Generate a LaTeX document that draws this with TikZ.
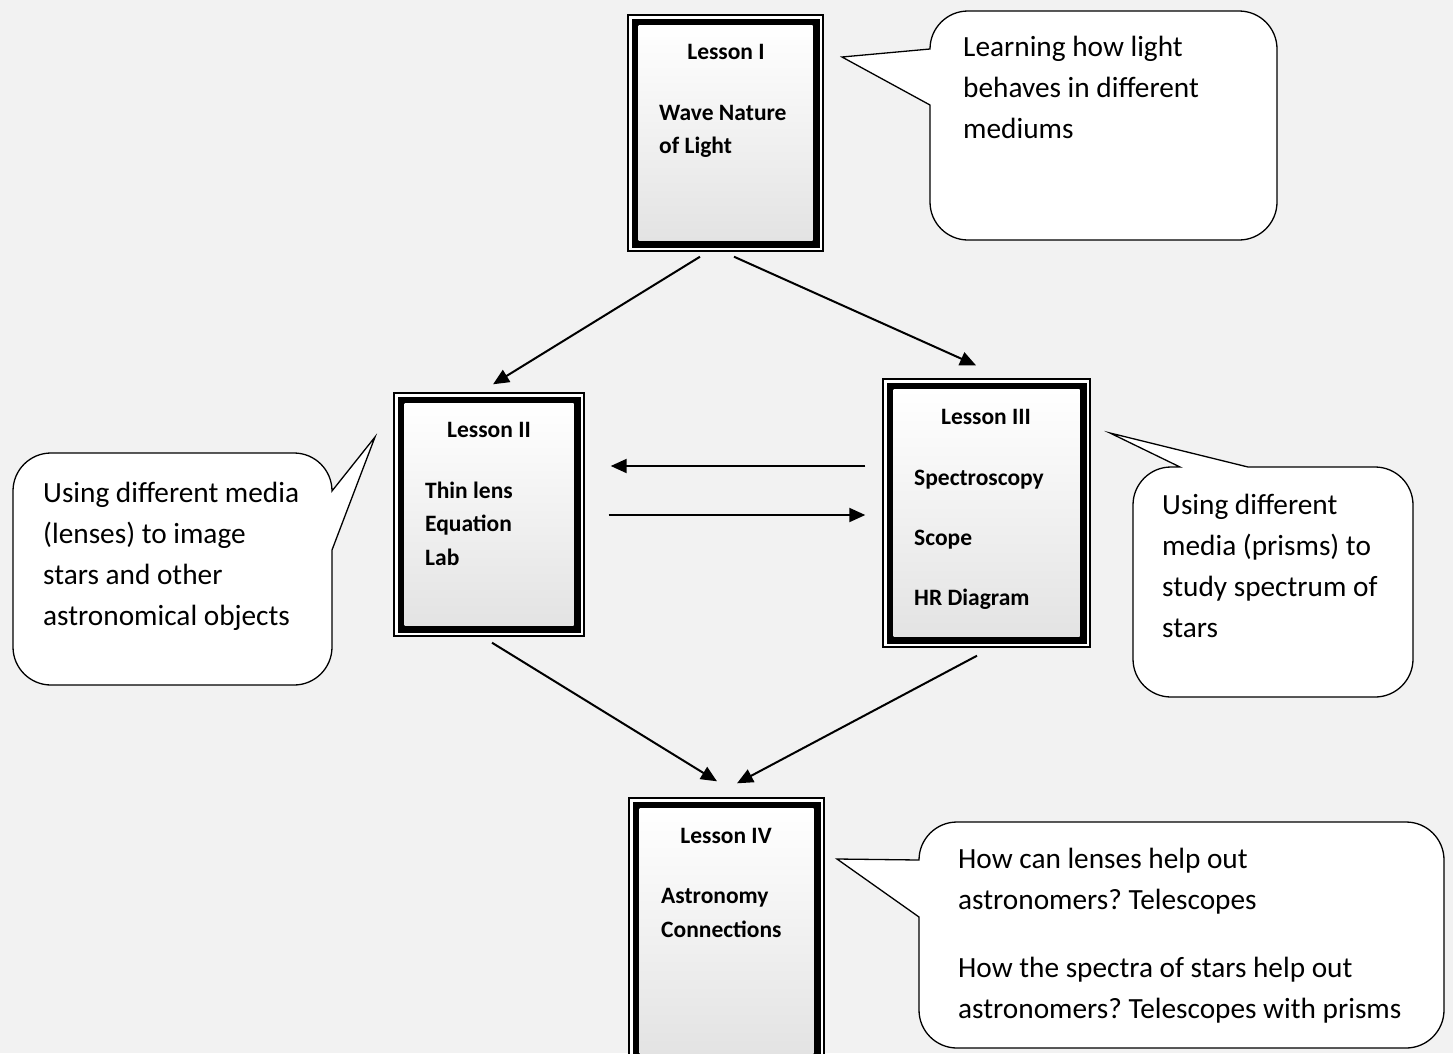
\documentclass[tikz,border=0pt]{standalone}
\usepackage{fontspec}
\setmainfont{Carlito}
\usetikzlibrary{arrows.meta,calc}
\definecolor{bgc}{HTML}{F2F2F2}
\frenchspacing
\begin{document}
\begin{tikzpicture}[x=1pt,y=-1pt,
  lesson/.style={draw=black, line width=1.4, fill=white, inner sep=0,
    path picture={
      \fill[black] ([shift={(3.5,3.5)}]path picture bounding box.north west) rectangle ([shift={(-3.5,-3.5)}]path picture bounding box.south east);
      \shade[top color=white, bottom color=gray!22] ([shift={(10.5,10.5)}]path picture bounding box.north west) rectangle ([shift={(-10.5,-10.5)}]path picture bounding box.south east);
    }},
  btext/.style={font=\fontsize{23.5}{28}\selectfont\bfseries, inner sep=0, anchor=base west},
  ctext/.style={font=\fontsize{29.3}{35}\selectfont, inner sep=0, anchor=base west},
  arr/.style={line width=2, -{Triangle[length=16pt,width=14pt]}},
  call/.style={draw=black, line width=1.3, fill=white}]
\useasboundingbox (0,0) rectangle (1453,1053);
\clip (0,0) rectangle (1453,1053);
\fill[bgc] (0,0) rectangle (1453,1053);

% lesson boxes
\node[lesson, minimum width=195, minimum height=236] (L1) at (725.5,133) {};
\node[lesson, minimum width=190, minimum height=243] (L2) at (489,514.5) {};
\node[lesson, minimum width=207, minimum height=268] (L3) at (986.5,513) {};
\node[lesson, minimum width=195, minimum height=267] (L4) at (726.5,931.5) {};

\node[btext, anchor=base] (L1h) at (726,59) {Lesson I};
\node[btext] (L1a) at (659,120) {Wave Nature};
\node[btext] (L1b) at (659,153.5) {of Light};

\node[btext, anchor=base] (L2h) at (489,437) {Lesson II};
\node[btext] (L2a) at (425,498) {Thin lens};
\node[btext] (L2b) at (425,531.5) {Equation};
\node[btext] (L2c) at (425,565) {Lab};

\node[btext, anchor=base] (L3h) at (986,424) {Lesson III};
\node[btext] (L3a) at (914,485) {Spectroscopy};
\node[btext] (L3b) at (914,545) {Scope};
\node[btext] (L3c) at (914,605) {HR Diagram};

\node[btext, anchor=base] (L4h) at (726,843) {Lesson IV};
\node[btext] (L4a) at (661,903) {Astronomy};
\node[btext] (L4b) at (661,937) {Connections};

% arrows
\draw[arr] ($(L1.south)+(-25.5,5)$) -- ($(L2.north)+(4,-8)$);
\draw[arr] ($(L1.south)+(8.5,5)$) -- ($(L3.north)+(-10.5,-13)$);
\draw[arr] ($(L3.west)+(-17,-47)$) -- ($(L2.east)+(26,-48.5)$);
\draw[arr] ($(L2.east)+(24,0.5)$) -- ($(L3.west)+(-17,2)$);
\draw[arr] ($(L2.south)+(3,6)$) -- ($(L4.north)+(-9.5,-16)$);
\draw[arr] ($(L3.south)+(-9.5,8)$) -- ($(L4.north)+(10.5,-14)$);

% callout 1 (top right)
\draw[call] (930,105) -- (930,202) arc (180:90:38) -- (1239,240) arc (90:0:38)
  -- (1277,49) arc (0:-90:38) -- (968,11) arc (-90:-180:38) -- (842,57) -- cycle;
\node[ctext] (C1a) at (963,56) {Learning how light};
\node[ctext] (C1b) at (963,97) {behaves in different};
\node[ctext] (C1c) at (963,138) {mediums};

% callout 2 (left)
\draw[call] (332,550) -- (332,647) arc (0:90:38) -- (51,685) arc (90:180:38)
  -- (13,491) arc (180:270:38) -- (294,453) arc (270:360:38) -- (375,437) -- cycle;
\node[ctext] (C2a) at (43,502) {Using different media};
\node[ctext] (C2b) at (43,543) {(lenses) to image};
\node[ctext] (C2c) at (43,584) {stars and other};
\node[ctext] (C2d) at (43,625) {astronomical objects};

% callout 3 (right middle)
\draw[call] (1180,467) -- (1110,433) -- (1248,467) -- (1375,467) arc (270:360:38)
  -- (1413,659) arc (0:90:38) -- (1171,697) arc (90:180:38)
  -- (1133,505) arc (180:270:38) -- cycle;
\node[ctext] (C3a) at (1162,514) {Using different};
\node[ctext] (C3b) at (1162,555) {media (prisms) to};
\node[ctext] (C3c) at (1162,596) {study spectrum of};
\node[ctext] (C3d) at (1162,637) {stars};

% callout 4 (bottom right)
\draw[call] (919,917) -- (919,1010) arc (180:90:38) -- (1406,1048) arc (90:0:38)
  -- (1444,860) arc (0:-90:38) -- (957,822) arc (-90:-180:38) -- (837,859) -- cycle;
\node[ctext] (C4a) at (958,868) {How can lenses help out};
\node[ctext] (C4b) at (958,909) {astronomers? Telescopes};
\node[ctext] (C4c) at (958,977) {How the spectra of stars help out};
\node[ctext] (C4d) at (958,1018) {astronomers? Telescopes with prisms};
\end{tikzpicture}
\end{document}
